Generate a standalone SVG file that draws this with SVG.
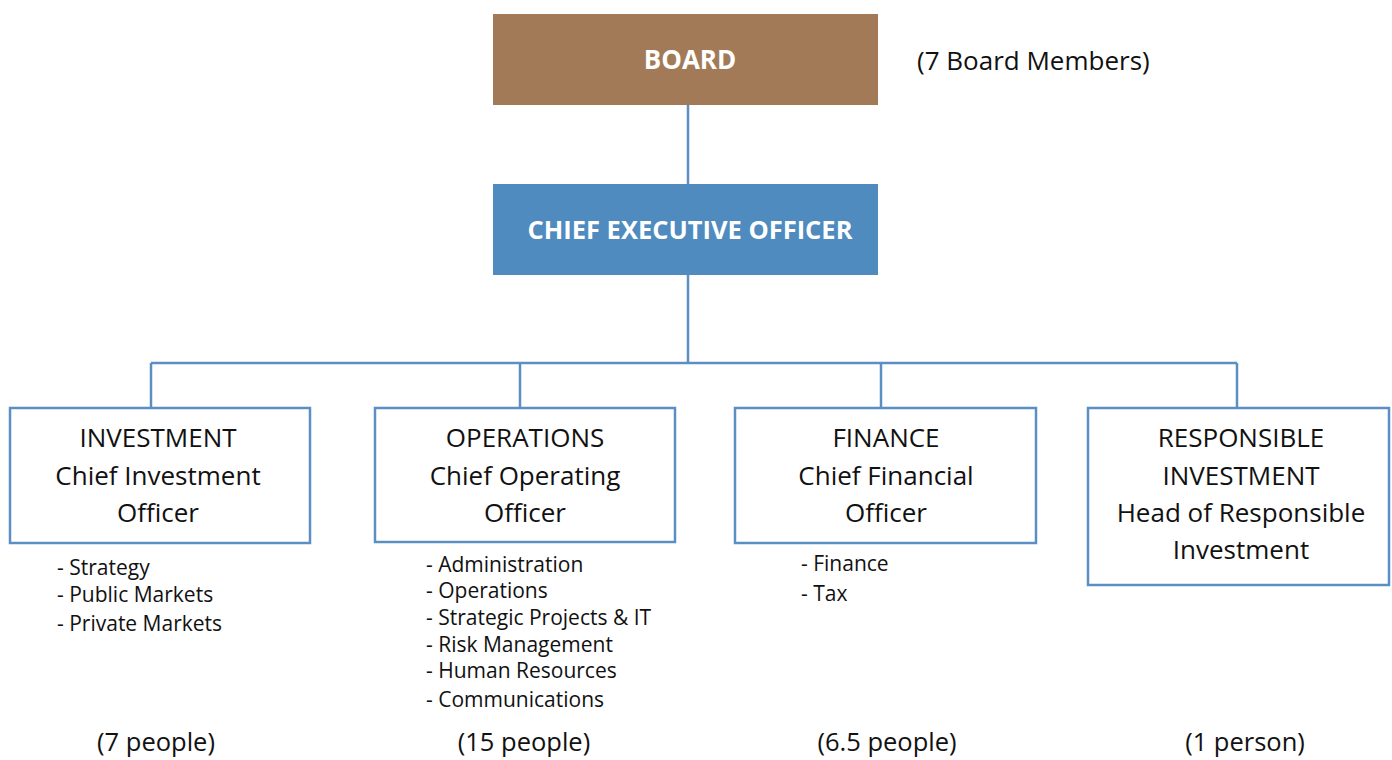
<svg xmlns="http://www.w3.org/2000/svg" width="1392" height="760" viewBox="0 0 1392 760">
  <style>
    text { font-family: "Open Sans", "Noto Sans", "Liberation Sans", sans-serif; fill: #111; }
    .head { font-size: 26px; font-weight: bold; fill: #fff; text-anchor: middle; }
    .title { font-size: 26px; text-anchor: middle; }
    .list { font-size: 21px; }
    .count { font-size: 25.5px; text-anchor: middle; }
    .unit { fill: #fff; stroke: #5B8FC3; stroke-width: 2.5; }
    .wire { fill: none; stroke: #5B8FC3; stroke-width: 2.5; }
  </style>
  <rect width="1392" height="760" fill="#fff"/>

  <g id="connectors">
    <path class="wire" d="M688 105 V184"/>
    <path class="wire" d="M688 275 V363"/>
    <path class="wire" d="M151 363 H1237"/>
    <path class="wire" d="M151 363 V408 M520 363 V408 M881 363 V408 M1237 363 V408"/>
  </g>

  <g id="board">
    <rect x="493" y="14" width="385" height="91" fill="#A27A57"/>
    <text class="head" x="690" y="69">BOARD</text>
  </g>
  <text x="917" y="70" style="font-size:26px">(7 Board Members)</text>

  <g id="ceo">
    <rect x="493" y="184" width="385" height="91" fill="#4F8BBF"/>
    <text class="head" x="690" y="239" style="font-size:25.5px">CHIEF EXECUTIVE OFFICER</text>
  </g>

  <g id="investment">
    <rect class="unit" x="10" y="408" width="300" height="135"/>
    <text class="title" x="158" y="447">INVESTMENT</text>
    <text class="title" x="158" y="485">Chief Investment</text>
    <text class="title" x="158" y="522">Officer</text>
    <text class="list" x="57" y="575">- Strategy</text>
    <text class="list" x="57" y="602">- Public Markets</text>
    <text class="list" x="57" y="631">- Private Markets</text>
    <text class="count" x="156" y="751">(7 people)</text>
  </g>

  <g id="operations">
    <rect class="unit" x="375" y="408" width="300" height="134"/>
    <text class="title" x="525" y="447">OPERATIONS</text>
    <text class="title" x="525" y="485">Chief Operating</text>
    <text class="title" x="525" y="522">Officer</text>
    <text class="list" x="426" y="572">- Administration</text>
    <text class="list" x="426" y="598">- Operations</text>
    <text class="list" x="426" y="625">- Strategic Projects &amp; IT</text>
    <text class="list" x="426" y="652">- Risk Management</text>
    <text class="list" x="426" y="678">- Human Resources</text>
    <text class="list" x="426" y="707">- Communications</text>
    <text class="count" x="524" y="751">(15 people)</text>
  </g>

  <g id="finance">
    <rect class="unit" x="735" y="408" width="301" height="135"/>
    <text class="title" x="886" y="447">FINANCE</text>
    <text class="title" x="886" y="485">Chief Financial</text>
    <text class="title" x="886" y="522">Officer</text>
    <text class="list" x="801" y="571">- Finance</text>
    <text class="list" x="801" y="601">- Tax</text>
    <text class="count" x="887" y="751">(6.5 people)</text>
  </g>

  <g id="responsible-investment">
    <rect class="unit" x="1088" y="408" width="301" height="177"/>
    <text class="title" x="1241" y="447">RESPONSIBLE</text>
    <text class="title" x="1241" y="485">INVESTMENT</text>
    <text class="title" x="1241" y="522">Head of Responsible</text>
    <text class="title" x="1241" y="559">Investment</text>
    <text class="count" x="1245" y="751">(1 person)</text>
  </g>
</svg>
